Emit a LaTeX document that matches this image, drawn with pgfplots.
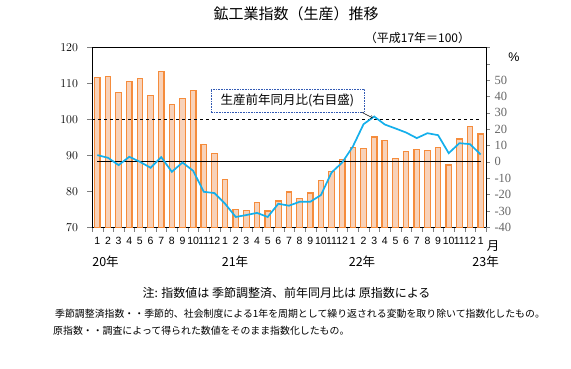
\documentclass[border=0pt]{standalone}
\usepackage{fontspec}
\setmainfont{Liberation Sans}
\newfontfamily\jp{Noto Sans CJK JP}
\newfontfamily\serif{Liberation Serif}
\usepackage{pgfplots}
\pgfplotsset{compat=1.18}
\definecolor{barline}{RGB}{245,140,60}
\definecolor{barfill}{RGB}{248,210,185}
\definecolor{cyanline}{RGB}{20,175,235}
\definecolor{boxblue}{RGB}{50,90,180}
\pgfplotstableread{
m v
1 111.6
2 111.9
3 107.4
4 110.5
5 111.3
6 106.6
7 113.3
8 104.2
9 105.7
10 108.0
11 93.0
12 90.5
13 83.3
14 74.9
15 74.7
16 76.8
17 74.5
18 77.3
19 79.8
20 77.9
21 79.5
22 83.1
23 85.4
24 88.8
25 92.1
26 91.9
27 95.1
28 94.1
29 89.1
30 91.0
31 91.6
32 91.3
33 92.1
34 87.3
35 94.5
36 98.1
37 95.9
}\bars
\pgfplotstableread{
m p
1 4.1
2 2.5
3 -2.0
4 3.1
5 0.0
6 -3.6
7 2.9
8 -6.1
9 -0.4
10 -5.5
11 -18.3
12 -19.1
13 -25.6
14 -33.7
15 -32.5
16 -31.2
17 -33.7
18 -25.6
19 -26.8
20 -24.4
21 -24.4
22 -20.3
23 -6.5
24 -0.4
25 9.4
26 23.0
27 27.7
28 22.8
29 20.4
30 17.9
31 14.5
32 17.5
33 16.3
34 5.3
35 11.4
36 10.8
37 4.5
}\yoy
\begin{document}
\begin{tikzpicture}
\begin{axis}[at={(92pt,141.7pt)}, anchor=south west, scale only axis,
  width=394pt, height=180pt,
  xmin=0.5, xmax=37.5, ymin=70, ymax=120,
  ytick={70,80,...,120}, ytick pos=left, tick align=outside,
  major tick length=4.5pt,
  xtick={0.5,1.5,...,37.5}, xticklabels={}, xtick pos=bottom,
  extra x ticks={1,...,37},
  extra x tick labels={1,2,3,4,5,6,7,8,9,10,11,12,1,2,3,4,5,6,7,8,9,10,11,12,1,2,3,4,5,6,7,8,9,10,11,12,1},
  extra x tick style={tick style={draw=none}},
  xticklabel style={font=\fontsize{10.5}{11}\selectfont, inner sep=0pt, yshift=-5pt},
  yticklabel style={font=\fontsize{12.5}{13}\selectfont, xshift=-6pt},
  axis line style={line width=0.8pt}]
\addplot[ybar, bar width=5.5pt, draw=barline, line width=1.2pt, fill=barfill] table[x=m,y=v]{\bars};
\addplot[dashed, line width=0.7pt, black] coordinates {(0.5,100) (36.93,100)};
\end{axis}
\begin{axis}[at={(92pt,141.7pt)}, anchor=south west, scale only axis,
  width=394pt, height=180pt,
  xmin=0.5, xmax=37.5, ymin=-40, ymax=70,
  axis x line=none, axis y line*=right, tick align=outside,
  major tick length=4pt,
  ytick={-40,-30,...,70},
  yticklabels={-40,-30,-20,-10,0,10,20,30,40,50,{},{}},
  yticklabel style={font=\serif\fontsize{12.5}{13}\selectfont, text=black!60, anchor=west, xshift=1pt},
  axis line style={line width=0.8pt}]
\addplot[black, line width=0.8pt] coordinates {(1,0) (37.06,0)};
\addplot[cyanline, line width=1.7pt, mark=none] table[x=m,y=p]{\yoy};
\end{axis}
\begin{scope}[x=1pt,y=1pt]
\node[font=\jp\fontsize{15}{16}\selectfont] at (296,355) {鉱工業指数（生産）推移};
\node[font=\jp\fontsize{12}{13}\selectfont] at (417.5,331) {（平成17年＝100）};
\node[font=\fontsize{12.5}{13}\selectfont] at (514,312) {\%};
\node[draw=boxblue, densely dotted, line width=0.6pt, minimum width=153pt, minimum height=23pt, inner sep=0pt, font=\jp\fontsize{12.5}{13}\selectfont] at (287.3,268.2) {生産前年同月比(右目盛)};
\draw[->, line width=0.5pt] (361.7,256.7) -- (372.5,251.2);
\node[font=\jp\fontsize{12.5}{13}\selectfont] at (493,123) {月};
\node[font=\jp\fontsize{12.5}{13}\selectfont] at (105.5,107.3) {20年};
\node[font=\jp\fontsize{12.5}{13}\selectfont] at (235,107.3) {21年};
\node[font=\jp\fontsize{12.5}{13}\selectfont] at (362,107.3) {22年};
\node[font=\jp\fontsize{12.5}{13}\selectfont] at (485.6,107.3) {23年};
\node[font=\jp\fontsize{12}{13}\selectfont] at (286.5,76) {注: 指数値は 季節調整済、前年同月比は 原指数による};
\node[font=\jp\fontsize{9.9}{11}\selectfont, anchor=west, inner sep=0pt] at (55,55) {季節調整済指数・・季節的、社会制度による1年を周期として繰り返される変動を取り除いて指数化したもの。};
\node[font=\jp\fontsize{9.9}{11}\selectfont, anchor=west, inner sep=0pt] at (53,38) {原指数・・調査によって得られた数値をそのまま指数化したもの。};
\path[use as bounding box] (0,0) rectangle (571,369);
\end{scope}
\end{tikzpicture}
\end{document}
